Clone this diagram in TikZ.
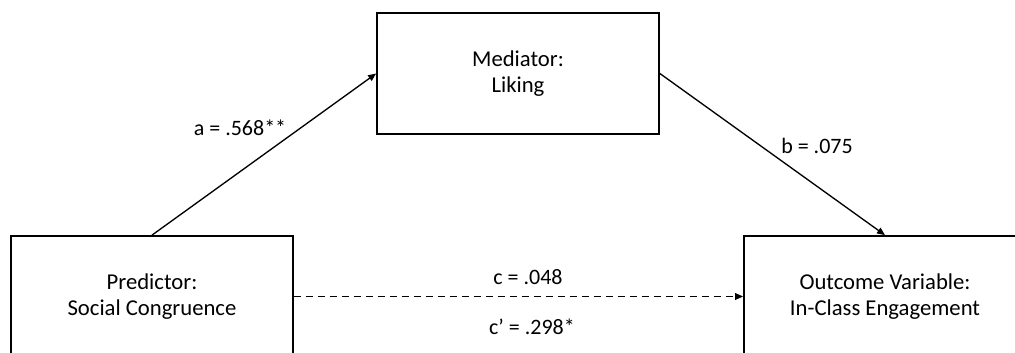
\documentclass[tikz,border=0pt]{standalone}
\usepackage{fontspec}
\setmainfont{Carlito}
\usetikzlibrary{arrows.meta}
\begin{document}
\begin{tikzpicture}[x=0.75pt,y=-0.75pt,
  box/.style={draw, line width=1.3pt, minimum width=282*0.75pt, minimum height=121*0.75pt, inner sep=0pt, align=center, font=\fontsize{17}{19.5}\selectfont},
  lab/.style={font=\fontsize{16.5}{18}\selectfont, inner sep=0pt},
  conn/.style={line width=1pt, -{Triangle[length=6pt,width=5pt]}}]
\useasboundingbox (0,0) rectangle (1015,353);
\clip (0,0) rectangle (1015,353);
\node[box] (med) at (518,73.5) {Mediator:\\Liking};
\node[box] (pred) at (152,296.5) {Predictor:\\Social Congruence};
\node[box] (out) at (885,296.5) {Outcome Variable:\\In-Class Engagement};
\draw[conn] (pred.north) -- (med.west);
\draw[conn] (med.east) -- (out.north);
\draw[conn, dashed, dash pattern=on 5pt off 4pt] (pred.east) -- (out.west);
\node[lab] (la) at (240,128) {a = .568**};
\node[lab] (lb) at (817,146) {b = .075};
\node[lab] (lc) at (528,277) {c = .048};
\node[lab] (lcp) at (532,327) {c’ = .298*};
\end{tikzpicture}
\end{document}
